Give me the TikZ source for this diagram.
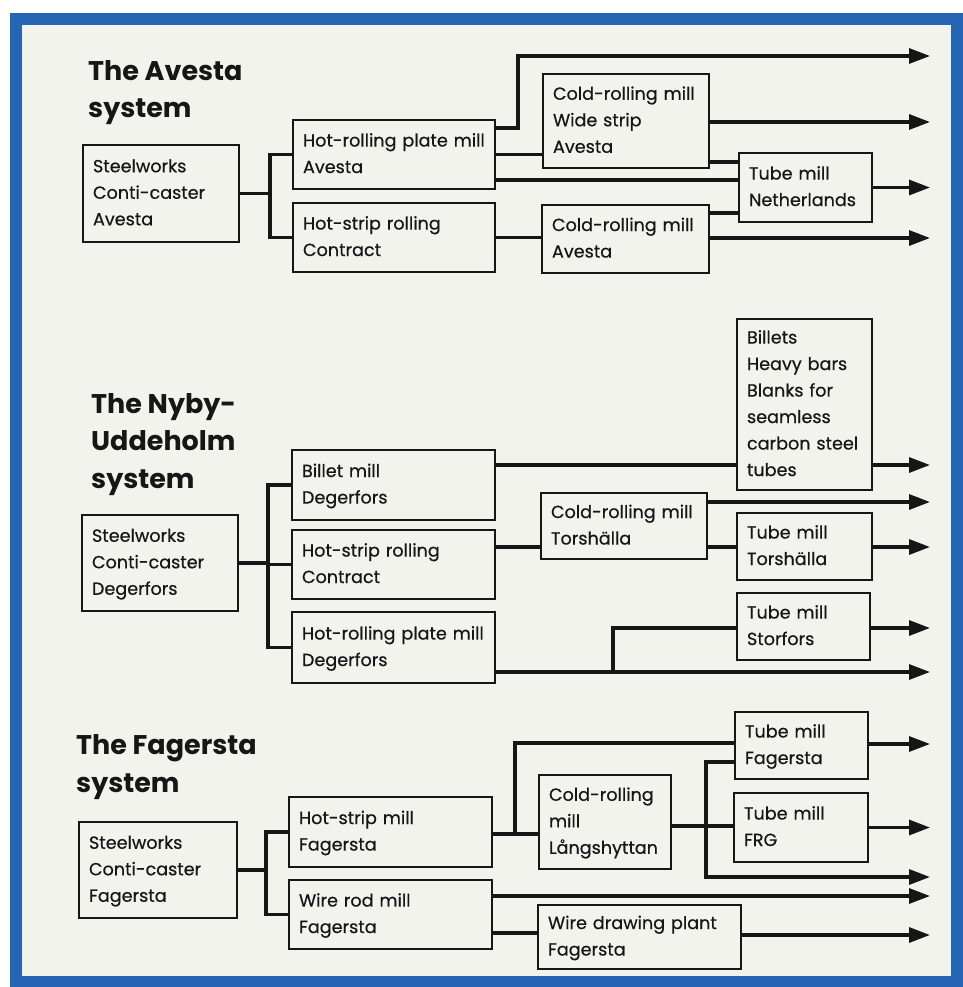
\documentclass[tikz,border=0pt]{standalone}
\usepackage{fontspec}
\setmainfont{Poppins}
\newfontfamily\millfont{Poppins}[FakeBold=0.5]
\usetikzlibrary{arrows.meta}

\definecolor{frameblue}{RGB}{38,100,180}
\definecolor{paper}{RGB}{243,243,238}
\definecolor{ink}{RGB}{22,22,22}

\tikzset{
  mill/.style={draw=ink, line width=1.6pt, align=left, inner xsep=10pt, inner ysep=0pt,
               font=\millfont\fontsize{17.6}{26.5}\selectfont, text=ink},
  flow/.style={draw=ink, line width=3.2pt},
  arr/.style={flow, -{Triangle[length=21pt,width=15pt]}},
  systitle/.style={font=\fontsize{27}{37.5}\selectfont\bfseries, align=left,
                   anchor=base west, inner sep=0pt, text=ink},
}

% \millbox{name}{left}{top}{right}{bottom}{text}
\newcommand\millbox[6]{%
  \pgfmathsetmacro\mbw{#4-#2-20}%
  \pgfmathsetmacro\mbh{#5-#3}%
  \node[mill, text width=\mbw pt, minimum height=\mbh pt] (#1) at ({(#2+#4)/2},{(#3+#5)/2})
    {\begin{tabular}{@{}l@{}}#6\end{tabular}};%
}

\begin{document}
\begin{tikzpicture}[x=1pt,y=-1pt]
  \useasboundingbox (0,0) rectangle (962,987);
  \fill[white] (0,0) rectangle (962,987);
  \fill[paper] (16,19) rectangle (957,982);
  \draw[frameblue, line width=12pt] (16,19) rectangle (957,982);

  % ---------------- The Avesta system ----------------
  \node[systitle] (tA) at (88,118) {The Avesta\\system};
  \millbox{swA}{83}{145}{239}{242}{Steelworks\\Conti-caster\\Avesta}
  \millbox{hrA}{293}{120}{495}{189}{Hot-rolling plate mill\\Avesta}
  \millbox{hsA}{293}{203}{495}{272}{Hot-strip rolling\\Contract}
  \millbox{crwA}{543}{74}{709}{168}{Cold-rolling mill\\Wide strip\\Avesta}
  \millbox{crA}{542}{205}{709}{273}{Cold-rolling mill\\Avesta}
  \millbox{tmN}{739}{153}{872}{222}{Tube mill\\Netherlands}

  \coordinate (jA) at (270,193.5);
  \coordinate (oA1) at (930,56);
  \coordinate (oA2) at (930,122);
  \coordinate (oA3) at (930,187.5);
  \coordinate (oA4) at (930,238);

  \draw[flow] (swA.east) -- (jA);
  \draw[flow] (hrA.west) -| (jA) |- (hsA.west);
  \draw[arr] (hrA.east |- 0,128) -| (518,56) -- (oA1);
  \draw[flow] (hrA.east) -- (hrA.east -| crwA.west);
  \draw[flow] (hrA.east |- 0,180) -- (tmN.west |- 0,180);
  \draw[arr] (crwA.east |- 0,122) -- (oA2);
  \draw[flow] (crwA.east |- 0,162) -- (tmN.west |- 0,162);
  \draw[arr] (tmN.east) -- (oA3);
  \draw[flow] (hsA.east) -- (hsA.east -| crA.west);
  \draw[flow] (crA.east |- 0,213) -- (tmN.west |- 0,213);
  \draw[arr] (crA.east |- 0,238) -- (oA4);

  % ---------------- The Nyby-Uddeholm system ----------------
  \node[systitle] (tN) at (91,488) {The Nyby-\\Uddeholm\\system};
  \millbox{swN}{82}{515}{238}{611}{Steelworks\\Conti-caster\\Degerfors}
  \millbox{bmN}{292}{450}{495}{520}{Billet mill\\Degerfors}
  \millbox{hsN}{292}{530}{495}{599}{Hot-strip rolling\\Contract}
  \millbox{hrN}{292}{612}{495}{683}{Hot-rolling plate mill\\Degerfors}
  \millbox{blN}{737}{319}{872}{490}{Billets\\Heavy bars\\Blanks for\\seamless\\carbon steel\\tubes}
  \millbox{crT}{541}{493}{707}{559}{Cold-rolling mill\\Torshälla}
  \millbox{tmT}{737}{513}{872}{580}{Tube mill\\Torshälla}
  \millbox{tmS}{737}{593}{870}{660}{Tube mill\\Storfors}

  \coordinate (jN) at (268,563);
  \coordinate (oN1) at (930,465);
  \coordinate (oN2) at (930,502);
  \coordinate (oN3) at (930,547);
  \coordinate (oN4) at (930,628);
  \coordinate (oN5) at (930,672);

  \draw[flow] (swN.east) -- (jN);
  \draw[flow] (bmN.west) -| (jN) |- (hrN.west);
  \draw[flow] (jN) -- (hsN.west -| 268,0) -- (hsN.west);
  \draw[flow] (bmN.east |- 0,465) -- (blN.west |- 0,465);
  \draw[arr] (blN.east |- 0,465) -- (oN1);
  \draw[flow] (hsN.east |- 0,547) -- (crT.west |- 0,547);
  \draw[arr] (crT.east |- 0,502) -- (oN2);
  \draw[flow] (crT.east |- 0,547) -- (tmT.west |- 0,547);
  \draw[arr] (tmT.east |- 0,547) -- (oN3);
  \draw[arr] (hrN.east |- 0,672) -- (oN5);
  \draw[flow] (613,672) |- (tmS.west |- 0,628);
  \draw[arr] (tmS.east |- 0,628) -- (oN4);

  % ---------------- The Fagersta system ----------------
  \node[systitle] (tF) at (76,792) {The Fagersta\\system};
  \millbox{swF}{79}{822}{237}{918}{Steelworks\\Conti-caster\\Fagersta}
  \millbox{hsF}{289}{797}{492}{867}{Hot-strip mill\\Fagersta}
  \millbox{wrF}{289}{880}{492}{949}{Wire rod mill\\Fagersta}
  \millbox{crL}{539}{775}{671}{869}{Cold-rolling\\mill\\Långshyttan}
  \millbox{tmF}{735}{712}{868}{779}{Tube mill\\Fagersta}
  \millbox{tmG}{734}{793}{868}{862}{Tube mill\\FRG}
  \millbox{wdF}{538}{905}{741}{969}{Wire drawing plant\\Fagersta}

  \coordinate (jF) at (266,870);
  \coordinate (oF1) at (930,744);
  \coordinate (oF2) at (930,827.5);
  \coordinate (oF3) at (930,877);
  \coordinate (oF4) at (930,896);
  \coordinate (oF5) at (930,935);

  \draw[flow] (swF.east) -- (jF);
  \draw[flow] (hsF.west) -| (jF) |- (wrF.west);
  \draw[flow] (hsF.east |- 0,834) -- (crL.west |- 0,834);
  \draw[flow] (515,834) |- (tmF.west |- 0,743);
  \draw[flow] (crL.east |- 0,826) -- (tmG.west |- 0,826);
  \draw[arr] (tmF.west |- 0,762) -| (706,877) -- (oF3);
  \draw[arr] (tmF.east |- 0,744) -- (oF1);
  \draw[arr] (tmG.east) -- (oF2);
  \draw[arr] (wrF.east |- 0,896) -- (oF4);
  \draw[flow] (wrF.east |- 0,933) -- (wdF.west |- 0,933);
  \draw[arr] (wdF.east |- 0,935) -- (oF5);
\end{tikzpicture}
\end{document}
